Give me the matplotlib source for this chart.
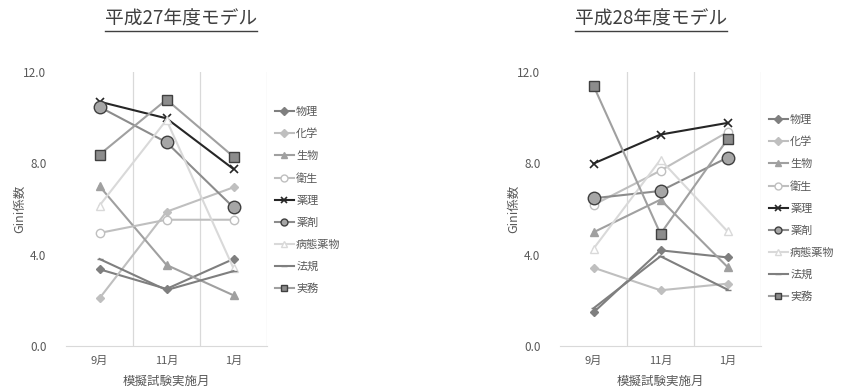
import matplotlib
matplotlib.use('Agg')
import matplotlib.pyplot as plt
from matplotlib.lines import Line2D

plt.rcParams['font.family'] = ['Noto Sans CJK JP', 'DejaVu Sans']

months = ['9月', '11月', '1月']
subjects = ['物理', '化学', '生物', '衛生', '薬理', '薬剤', '病態薬物', '法規', '実務']
y_ticks = [0.0, 4.0, 8.0, 12.0]

# 平成27年度モデル
h27_butsuri = [3.36, 2.50, 3.81]
h27_kagaku = [2.09, 5.88, 6.95]
h27_seibutsu = [7.00, 3.55, 2.22]
h27_eisei = [4.95, 5.53, 5.53]
h27_yakuri = [10.70, 9.97, 7.75]
h27_yakuzai = [10.47, 8.92, 6.07]
h27_byotai = [6.15, 9.90, 3.40]
h27_hoki = [3.81, 2.45, 3.28]
h27_jitsumu = [8.38, 10.79, 8.29]

# 平成28年度モデル
h28_butsuri = [1.47, 4.19, 3.88]
h28_kagaku = [3.43, 2.44, 2.73]
h28_seibutsu = [4.98, 6.41, 3.46]
h28_eisei = [6.18, 7.68, 9.37]
h28_yakuri = [7.99, 9.26, 9.77]
h28_yakuzai = [6.47, 6.79, 8.25]
h28_byotai = [4.26, 8.16, 5.02]
h28_hoki = [1.65, 3.93, 2.47]
h28_jitsumu = [11.40, 4.91, 9.05]

h27 = [h27_butsuri, h27_kagaku, h27_seibutsu, h27_eisei, h27_yakuri,
       h27_yakuzai, h27_byotai, h27_hoki, h27_jitsumu]
h28 = [h28_butsuri, h28_kagaku, h28_seibutsu, h28_eisei, h28_yakuri,
       h28_yakuzai, h28_byotai, h28_hoki, h28_jitsumu]

# line color, marker, marker face, marker edge, marker size
styles = [
    dict(color='#7f7f7f', marker='D', mfc='#7f7f7f', mec='#7f7f7f', ms=4),
    dict(color='#bfbfbf', marker='D', mfc='#bfbfbf', mec='#bfbfbf', ms=4),
    dict(color='#a0a0a0', marker='^', mfc='#a0a0a0', mec='#a0a0a0', ms=6),
    dict(color='#bfbfbf', marker='o', mfc='white', mec='#bfbfbf', ms=6),
    dict(color='#262626', marker='x', mfc='#262626', mec='#262626', ms=6, mew=1.2),
    dict(color='#8c8c8c', marker='o', mfc='#a6a6a6', mec='#404040', ms=9),
    dict(color='#d9d9d9', marker='^', mfc='white', mec='#d9d9d9', ms=6),
    dict(color='#7f7f7f', marker='_', mfc='#7f7f7f', mec='#7f7f7f', ms=5),
    dict(color='#a0a0a0', marker='s', mfc='#8c8c8c', mec='#404040', ms=7),
]

fig = plt.figure(figsize=(8.42, 3.90), dpi=100)
W, H = 842, 390


def draw_panel(left_px, data, title, title_x, leg_mid_px):
    ax = fig.add_axes([left_px / W, (H - 346) / H, 201 / W, 274 / H])
    x = range(len(months))
    for vals, name, st in zip(data, subjects, styles):
        ax.plot(x, vals, label=name, lw=1.5, color=st['color'], marker=st['marker'],
                markerfacecolor=st['mfc'], markeredgecolor=st['mec'],
                markersize=st['ms'], markeredgewidth=st.get('mew', 1.0))
    ax.set_xlim(-0.5, 2.5)
    ax.set_ylim(0, 12)
    ax.set_yticks(y_ticks)
    ax.set_yticklabels(['%.1f' % v for v in y_ticks])
    ax.set_xticks(list(x))
    ax.set_xticklabels(months)
    for b in [0.5, 1.5, 2.5]:
        ax.axvline(b, color='#d9d9d9', lw=0.9, zorder=0)
    for s in ['top', 'left', 'right']:
        ax.spines[s].set_visible(False)
    ax.spines['bottom'].set_color('#d9d9d9')
    ax.tick_params(axis='both', length=0, colors='#595959', labelsize=8)
    ax.tick_params(axis='y', pad=14, labelsize=8.5)
    ax.tick_params(axis='x', pad=7)
    ax.set_xlabel('模擬試験実施月', color='#595959', fontsize=9, va='center')
    ax.set_ylabel('Gini係数', color='#595959', fontsize=9, va='center')
    ax.xaxis.set_label_coords(0.5, -(381 - 346) / 274)
    ax.yaxis.set_label_coords(-46 / 201, 0.5)
    leg = ax.legend(loc='center left',
                    bbox_to_anchor=(1 + 8 / 201, (346 - leg_mid_px) / 274),
                    frameon=False, borderpad=0, borderaxespad=0,
                    fontsize=8, handlelength=1.7, handletextpad=0.2,
                    labelspacing=1.07, labelcolor='#595959')
    for h in leg.legend_handles:
        h.set_markersize(min(h.get_markersize(), 5))
    t = fig.text(title_x / W, 1 - 19 / H, title, ha='center', va='center',
                 fontsize=13.5, color='#404040')
    return t


t1 = draw_panel(66, h27, '平成27年度モデル', 181, 200.5)
t2 = draw_panel(560, h28, '平成28年度モデル', 651, 208.5)

fig.canvas.draw()
r = fig.canvas.get_renderer()
for t in [t1, t2]:
    bb = t.get_window_extent(renderer=r)
    y = (bb.y0 - 1) / H
    fig.add_artist(Line2D([bb.x0 / W, bb.x1 / W], [y, y], color='#404040', lw=1.0))

fig.savefig('out.png', dpi=100)
